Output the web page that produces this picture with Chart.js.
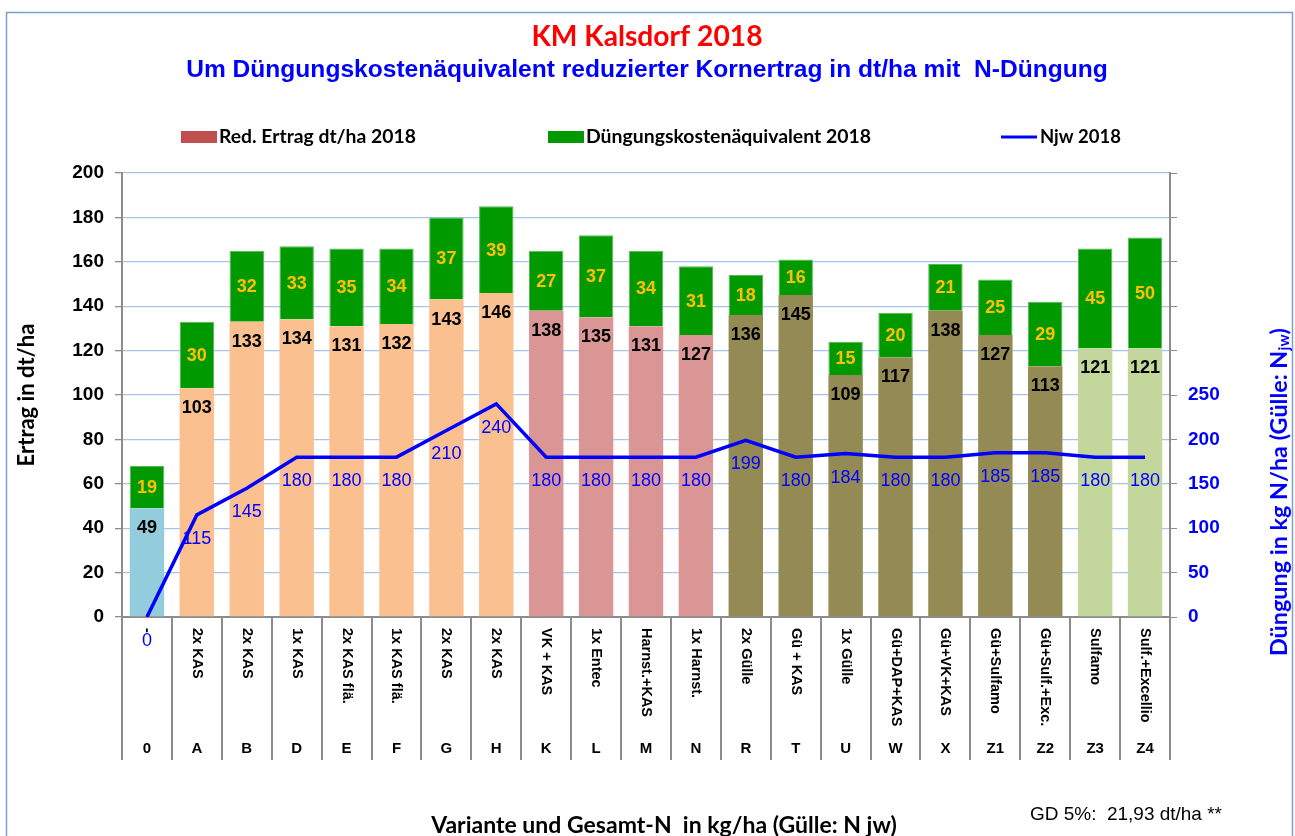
<!DOCTYPE html>
<html>
<head>
<meta charset="utf-8">
<script src="https://cdn.jsdelivr.net/npm/chart.js@4.4.1/dist/chart.umd.min.js"></script>
<style>
  html, body { margin: 0; padding: 0; background: #ffffff; }
  #wrap { width: 1295px; height: 836px; position: relative; overflow: hidden; }
  canvas { display: block; }
</style>
</head>
<body>
<div id="wrap"><canvas id="c" width="1295" height="836"></canvas></div>
<script>
// ---------- data ----------
const codes = ['0','A','B','D','E','F','G','H','K','L','M','N','R','T','U','W','X','Z1','Z2','Z3','Z4'];
const variants = ['-','2x KAS','2x KAS','1x KAS','2x KAS flä.','1x KAS flä.','2x KAS','2x KAS','VK + KAS','1x Entec','Harnst.+KAS','1x Harnst.','2x Gülle','Gü + KAS','1x Gülle','Gü+DAP+KAS','Gü+VK+KAS','Gü+Sulfamo','Gü+Sulf.+Exc.','Sulfamo','Sulf.+Excellio'];
const redErtrag = [49,103,133,134,131,132,143,146,138,135,131,127,136,145,109,117,138,127,113,121,121];
const duengKostAeq = [19,30,32,33,35,34,37,39,27,37,34,31,18,16,15,20,21,25,29,45,50];
const njw = [0,115,145,180,180,180,210,240,180,180,180,180,199,180,184,180,180,185,185,180,180];
const leftTickStep = 20;
const rightTickStep = 50;
const rightTickMaxLabel = 250;

// ---------- styles ----------
const ARIAL = "'Liberation Sans', Arial, sans-serif";
const CALIBRI = "Lato, 'Open Sans', sans-serif";
const groupColor = ['#93CDDD','#FAC090','#FAC090','#FAC090','#FAC090','#FAC090','#FAC090','#FAC090',
  '#D99694','#D99694','#D99694','#D99694',
  '#948A54','#948A54','#948A54','#948A54','#948A54','#948A54','#948A54',
  '#C3D69B','#C3D69B'];
const GREEN = '#009A00';
const GREY = '#8C8C8C';

function fitFont(ctx, text, weight, family, target) {
  ctx.font = weight + ' 20px ' + family;
  const w = ctx.measureText(text).width;
  const size = 20 * target / w;
  ctx.font = weight + ' ' + size.toFixed(2) + 'px ' + family;
  return size;
}

const decor = {
  id: 'decor',
  beforeDraw(chart) {
    const ctx = chart.ctx;
    ctx.save();
    ctx.fillStyle = '#ffffff';
    ctx.fillRect(0, 0, chart.width, chart.height);
    ctx.strokeStyle = '#7A9FD0';
    ctx.lineWidth = 1.5;
    ctx.strokeRect(6.5, 12.5, 1286, 840);
    ctx.restore();
  },
  afterDatasetsDraw(chart) {
    const ctx = chart.ctx;
    ctx.save();
    ctx.textAlign = 'center';
    ctx.textBaseline = 'middle';
    // red bar values
    const mRed = chart.getDatasetMeta(1);
    ctx.font = 'bold 18px ' + ARIAL;
    ctx.fillStyle = '#000000';
    mRed.data.forEach((el, i) => {
      ctx.fillText(String(redErtrag[i]), el.x, el.y + 20);
    });
    // green values
    const mGr = chart.getDatasetMeta(2);
    ctx.fillStyle = '#FFC000';
    mGr.data.forEach((el, i) => {
      ctx.fillText(String(duengKostAeq[i]), el.x, (el.y + el.base) / 2 + 1);
    });
    // line values
    const mLine = chart.getDatasetMeta(0);
    ctx.font = '18px ' + ARIAL;
    ctx.fillStyle = '#0000FF';
    mLine.data.forEach((el, i) => {
      ctx.fillText(String(njw[i]), el.x, el.y + 24);
    });
    ctx.restore();
  },
  afterDraw(chart) {
    const ctx = chart.ctx;
    const xs = chart.scales.x;
    ctx.save();
    // titles
    ctx.textAlign = 'center';
    ctx.textBaseline = 'middle';
    ctx.fillStyle = '#FF0000';
    fitFont(ctx, 'KM Kalsdorf 2018', 'bold', CALIBRI, 231);
    ctx.fillText('KM Kalsdorf 2018', 647, 37);
    ctx.fillStyle = '#0000FF';
    const sub = 'Um Düngungskostenäquivalent reduzierter Kornertrag in dt/ha mit  N-Düngung';
    fitFont(ctx, sub, 'bold', ARIAL, 922);
    ctx.fillText(sub, 647, 70);

    // legend
    ctx.textAlign = 'left';
    ctx.fillStyle = '#C0504D';
    ctx.fillRect(181, 131, 36, 12);
    ctx.fillStyle = GREEN;
    ctx.fillRect(548, 131, 36, 12);
    ctx.strokeStyle = '#0000FF';
    ctx.lineWidth = 3;
    ctx.beginPath(); ctx.moveTo(1001, 137); ctx.lineTo(1037, 137); ctx.stroke();
    ctx.fillStyle = '#000000';
    fitFont(ctx, 'Red. Ertrag dt/ha 2018', 'bold', CALIBRI, 197);
    ctx.fillText('Red. Ertrag dt/ha 2018', 219, 137);
    fitFont(ctx, 'Düngungskostenäquivalent 2018', 'bold', CALIBRI, 285);
    ctx.fillText('Düngungskostenäquivalent 2018', 586, 137);
    fitFont(ctx, 'Njw 2018', 'bold', CALIBRI, 81);
    ctx.fillText('Njw 2018', 1040, 137);

    // x category labels (rotated) and codes
    ctx.fillStyle = '#000000';
    for (let i = 0; i < codes.length; i++) {
      const x = xs.getPixelForValue(i);
      ctx.save();
      ctx.translate(x, 628);
      ctx.rotate(Math.PI / 2);
      ctx.font = 'bold 14.5px ' + ARIAL;
      ctx.textAlign = 'left';
      ctx.textBaseline = 'middle';
      ctx.fillText(variants[i], 0, 0);
      ctx.restore();
      ctx.font = 'bold 15px ' + ARIAL;
      ctx.textAlign = 'center';
      ctx.textBaseline = 'middle';
      ctx.fillText(codes[i], x, 749);
    }

    // right axis title with subscript
    ctx.save();
    ctx.translate(1279, 492);
    ctx.rotate(-Math.PI / 2);
    ctx.fillStyle = '#0000FF';
    ctx.textBaseline = 'middle';
    ctx.textAlign = 'left';
    const p1 = 'Düngung in kg N/ha (Gülle: N', p2 = 'jw', p3 = ')';
    ctx.font = 'bold 20px ' + CALIBRI;
    const w1 = ctx.measureText(p1).width, w3 = ctx.measureText(p3).width;
    ctx.font = 'bold 13px ' + CALIBRI;
    const w2 = ctx.measureText(p2).width;
    const k = 328 / (w1 + w2 + w3);
    const s1 = 20 * k, s2 = 13 * k;
    let cx = -164;
    ctx.font = 'bold ' + s1.toFixed(2) + 'px ' + CALIBRI;
    ctx.fillText(p1, cx, 0); cx += w1 * k;
    ctx.font = 'bold ' + s2.toFixed(2) + 'px ' + CALIBRI;
    ctx.fillText(p2, cx, 5); cx += w2 * k;
    ctx.font = 'bold ' + s1.toFixed(2) + 'px ' + CALIBRI;
    ctx.fillText(p3, cx, 0);
    ctx.restore();

    // bottom texts
    ctx.textAlign = 'center';
    ctx.textBaseline = 'middle';
    ctx.fillStyle = '#000000';
    const bt = 'Variante und Gesamt-N  in kg/ha (Gülle: N jw)';
    fitFont(ctx, bt, 'bold', CALIBRI, 466);
    ctx.fillText(bt, 664, 826);
    const gd = 'GD 5%:  21,93 dt/ha **';
    fitFont(ctx, gd, 'normal', ARIAL, 192);
    ctx.fillText(gd, 1126, 815);
    ctx.restore();
  }
};

new Chart(document.getElementById('c'), {
  type: 'bar',
  data: {
    labels: codes,
    datasets: [
      {
        type: 'line',
        label: 'Njw 2018',
        data: njw,
        yAxisID: 'y2',
        borderColor: '#0000FF',
        borderWidth: 3.5,
        pointRadius: 0,
        tension: 0,
        fill: false,
        order: 0
      },
      {
        label: 'Red. Ertrag dt/ha 2018',
        data: redErtrag,
        yAxisID: 'y',
        stack: 's',
        backgroundColor: groupColor,
        borderWidth: 0,
        order: 1
      },
      {
        label: 'Düngungskostenäquivalent 2018',
        data: duengKostAeq,
        yAxisID: 'y',
        stack: 's',
        backgroundColor: GREEN,
        borderColor: '#55B855',
        borderWidth: 1,
        order: 1
      }
    ]
  },
  options: {
    responsive: false,
    animation: false,
    events: [],
    layout: { padding: { top: 173, left: 0, right: 0, bottom: 0 } },
    datasets: { bar: { barPercentage: 0.69, categoryPercentage: 1.0 } },
    plugins: { legend: { display: false }, title: { display: false }, tooltip: { enabled: false } },
    scales: {
      x: {
        stacked: true,
        grid: { offset: true, drawOnChartArea: false, drawTicks: true, tickLength: 143, color: GREY, lineWidth: 2 },
        border: { display: true, color: GREY, width: 2 },
        ticks: { display: false },
        afterFit: (s) => { s.height = 219; }
      },
      y: {
        position: 'left',
        stacked: true,
        min: 0, max: 200,
        ticks: { stepSize: leftTickStep, font: { family: ARIAL, size: 19, weight: 'bold' }, color: '#000000', padding: 11 },
        grid: { color: '#A8C4E8', lineWidth: 1.3, tickColor: GREY, tickLength: 7, drawTicks: true },
        border: { display: true, color: GREY, width: 2 },
        title: { display: true, text: 'Ertrag in dt/ha', color: '#000000', font: { family: CALIBRI, size: 22, weight: 'bold' }, padding: { top: 14, bottom: 0 } },
        afterFit: (s) => { s.width = 122; }
      },
      y2: {
        position: 'right',
        min: 0, max: 500,
        ticks: {
          stepSize: rightTickStep,
          font: { family: ARIAL, size: 19, weight: 'bold' }, color: '#0000FF', padding: 11,
          callback: (v) => (v <= rightTickMaxLabel ? String(v) : '')
        },
        grid: { drawOnChartArea: false, drawTicks: true, tickLength: 7, tickColor: GREY, color: GREY },
        border: { display: true, color: GREY, width: 2 },
        afterFit: (s) => { s.width = 125; }
      }
    }
  },
  plugins: [decor]
});
</script>
</body>
</html>
